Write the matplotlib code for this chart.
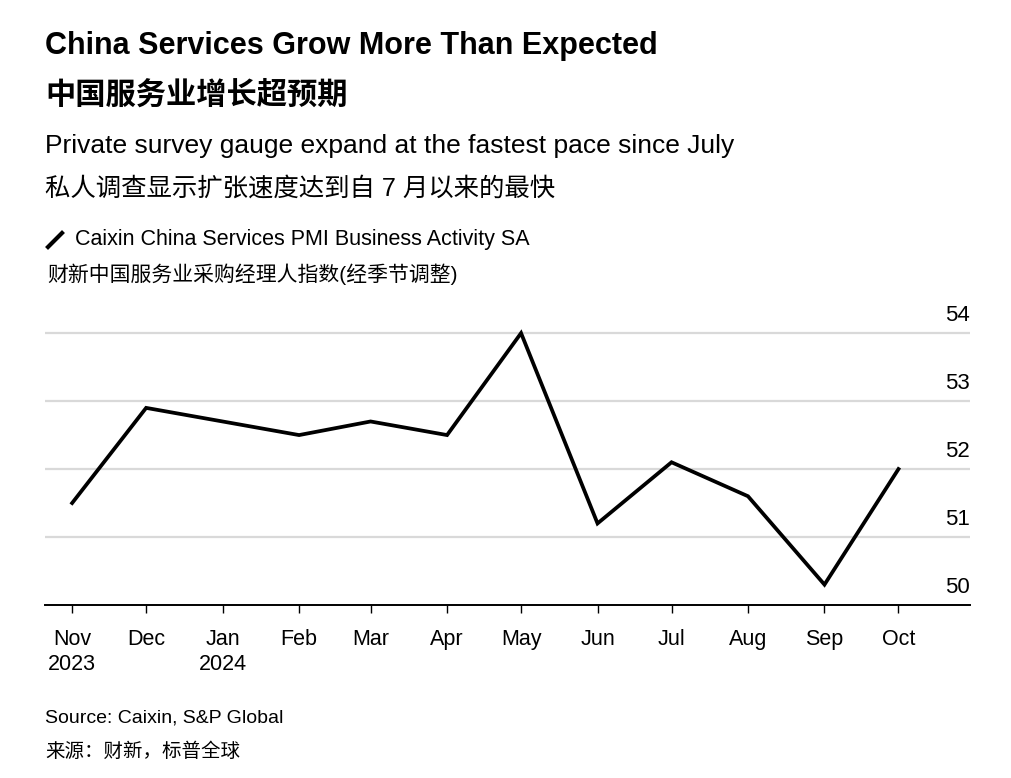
import matplotlib.pyplot as plt
import matplotlib.transforms as mtransforms
import pandas as pd

plt.rcParams['font.family'] = ['Liberation Sans', 'Noto Sans CJK SC', 'DejaVu Sans']

months = pd.date_range("2023-11-01", "2024-10-01", freq="MS")
pmi = [51.5, 52.9, 52.7, 52.5, 52.7, 52.5, 54.0, 51.2, 52.1, 51.6, 50.3, 52.0]
tick_labels = ["Nov\n2023", "Dec", "Jan\n2024", "Feb", "Mar", "Apr", "May",
               "Jun", "Jul", "Aug", "Sep", "Oct"]
y_ticks = [50, 51, 52, 53, 54]

W, H = 1012, 778
fig = plt.figure(figsize=(W / 100, H / 100), dpi=100)


def fy(px):
    return 1 - px / H


ax = fig.add_axes([45 / W, fy(605), (970 - 45) / W, (605 - 310) / H])

for v in y_ticks[1:]:
    ax.axhline(v, color="#d9d9d9", lw=1.6, zorder=1)

ax.plot(months, pmi, color="black", lw=2.7, zorder=3, solid_joinstyle="miter")

ax.set_ylim(50, 54.34)
ax.set_xlim(pd.Timestamp("2023-10-21"), pd.Timestamp("2024-10-30"))

for s in ["top", "right", "left"]:
    ax.spines[s].set_visible(False)
ax.spines["bottom"].set_linewidth(1.4)
ax.spines["bottom"].set_color("black")

ax.set_yticks([])
ax.set_xticks(months)
ax.set_xticklabels(tick_labels, fontsize=15.5, linespacing=1.3)
ax.tick_params(axis="x", length=6, width=1, color="black", pad=11)

# y labels sit above their gridlines at the right edge
trans = mtransforms.blended_transform_factory(ax.transAxes, ax.transData)
offset = mtransforms.ScaledTranslation(0, 0.07, fig.dpi_scale_trans)
for v in y_ticks:
    ax.text(1.0, v, str(v), transform=trans + offset, ha="right", va="bottom",
            fontsize=16, color="black")

fig.text(45 / W, fy(46), "China Services Grow More Than Expected",
         fontsize=22, fontweight="bold", va="center", ha="left")
fig.text(45 / W, fy(95), "中国服务业增长超预期",
         fontsize=21.8, fontweight="bold", va="center", ha="left")
fig.text(45 / W, fy(146), "Private survey gauge expand at the fastest pace since July",
         fontsize=19, va="center", ha="left")
fig.text(45 / W, fy(189), "私人调查显示扩张速度达到自 7 月以来的最快",
         fontsize=18.3, va="center", ha="left")

fig.lines.append(plt.Line2D([48 / W, 62 / W], [fy(247), fy(233)],
                            transform=fig.transFigure, color="black", lw=3))
fig.text(75 / W, fy(240), "Caixin China Services PMI Business Activity SA",
         fontsize=15.5, va="center", ha="left")
fig.text(47 / W, fy(274), "财新中国服务业采购经理人指数(经季节调整)",
         fontsize=15, va="center", ha="left")

fig.text(45 / W, fy(718), "Source: Caixin, S&P Global",
         fontsize=14, va="center", ha="left")
fig.text(45 / W, fy(752), "来源：财新，标普全球",
         fontsize=14, va="center", ha="left")

fig.savefig("out.png", dpi=100)
